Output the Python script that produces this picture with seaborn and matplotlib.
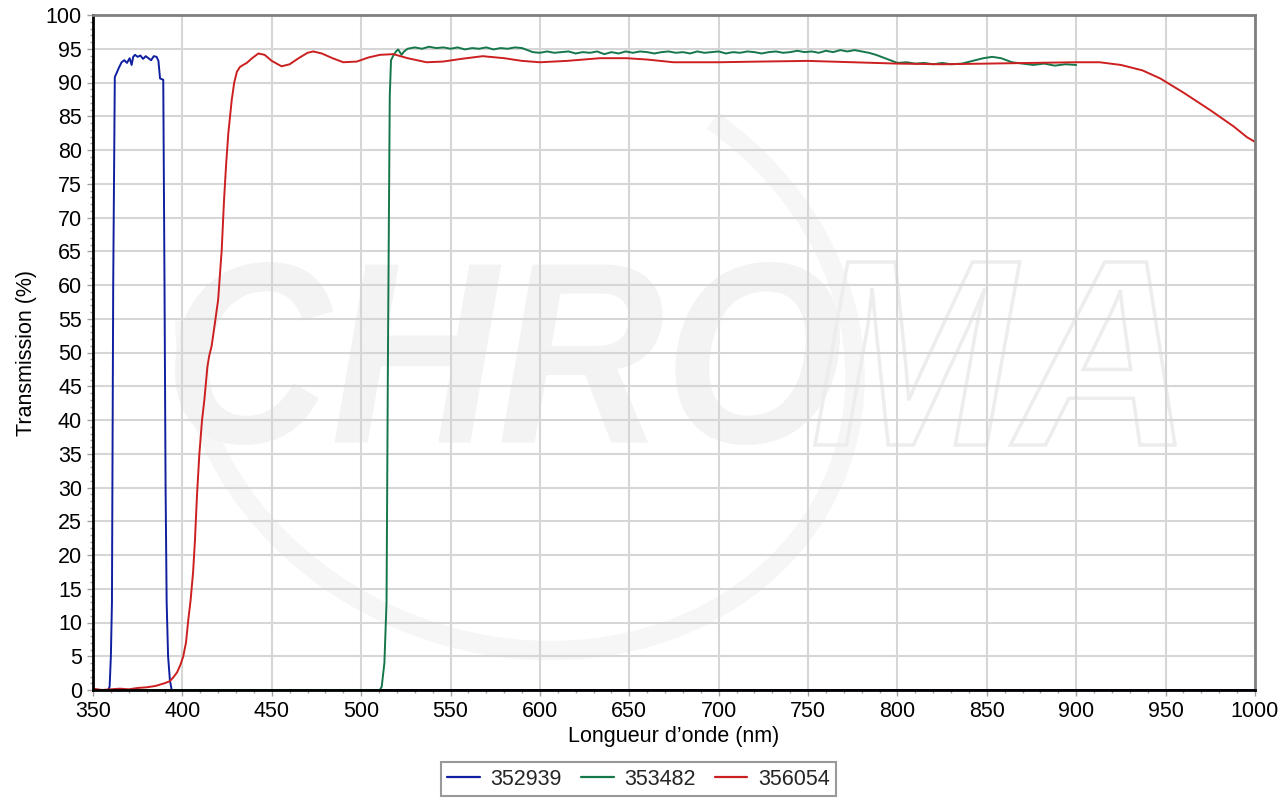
import numpy as np
import pandas as pd
import matplotlib
matplotlib.use('Agg')
import matplotlib.pyplot as plt
import seaborn as sns
from matplotlib.textpath import TextPath
from matplotlib.patches import PathPatch, Arc
from matplotlib.font_manager import FontProperties
from matplotlib.transforms import Affine2D, IdentityTransform
from matplotlib.ticker import MultipleLocator

# Data
blue_nm = [350, 358.5, 359.3, 360.0, 360.6, 361.3, 362.2, 363.2, 364.5, 366.0, 367.5, 369.0,
           370.5, 371.6, 372.5, 373.5, 375.0, 376.5, 378.0, 379.5, 381.0, 382.5, 384.0, 385.6,
           386.6, 387.5, 389.3, 390.0, 390.6, 391.2, 392.0, 393.0, 394.0, 1000]
blue_t = [0, 0, 0.5, 5, 13, 60, 90.8, 91.4, 92.2, 93.0, 93.3, 92.9,
          93.6, 92.6, 93.8, 94.1, 93.8, 94.0, 93.5, 93.9, 93.6, 93.3, 93.9, 93.8,
          93.2, 90.6, 90.4, 60, 30, 13, 5, 1.5, 0, 0]

green_nm = [350, 510.5, 511.5, 513, 514.2, 515, 516, 516.7, 518, 519.5, 520.7, 522.6, 524, 526,
            530, 534, 538, 542, 546, 550, 554, 558, 562, 566, 570, 574, 578, 582, 586, 590,
            593, 596, 600, 604, 608, 612, 616, 620, 624, 628, 632, 636, 640, 644, 648, 652,
            656, 660, 664, 668, 672, 676, 680, 684, 688, 692, 696, 700, 704, 708, 712, 716,
            720, 724, 728, 732, 736, 740, 744, 748, 752, 756, 760, 764, 768, 772, 776, 780,
            784, 788, 792, 796, 800, 805, 810, 815, 820, 825, 830, 836, 842, 848, 853, 858,
            864, 870, 876, 882, 888, 894, 900]
green_t = [0, 0, 0.5, 4, 13, 50, 88, 93.3, 94.0, 94.6, 94.9, 94.1, 94.6, 95.0,
           95.2, 95.0, 95.3, 95.1, 95.2, 95.0, 95.2, 94.9, 95.1, 95.0, 95.2, 94.9, 95.1, 95.0, 95.2, 95.1,
           94.8, 94.5, 94.4, 94.6, 94.4, 94.5, 94.6, 94.3, 94.5, 94.4, 94.6, 94.2, 94.5, 94.3, 94.6, 94.4,
           94.6, 94.5, 94.3, 94.5, 94.6, 94.4, 94.5, 94.3, 94.6, 94.4, 94.5, 94.6, 94.3, 94.5, 94.4, 94.6,
           94.5, 94.3, 94.5, 94.6, 94.4, 94.5, 94.7, 94.5, 94.6, 94.4, 94.7, 94.5, 94.8, 94.6, 94.8, 94.6,
           94.4, 94.1, 93.7, 93.3, 92.9, 93.0, 92.8, 92.9, 92.7, 92.9, 92.7, 92.8, 93.2, 93.6, 93.8, 93.6,
           93.0, 92.8, 92.6, 92.8, 92.5, 92.7, 92.6]

red_nm = [350, 355, 360, 365, 370, 375, 380, 385, 390, 393, 395, 397, 399, 400.5, 402, 403.3,
          404.6, 406, 407, 408.2, 409.5, 411, 412.3, 414, 415, 416.4, 418, 420, 422, 423.3,
          424.5, 425.7, 427.6, 429, 430.5, 432.2, 434, 436, 439, 442.5, 446, 450, 455.5, 460,
          465, 470, 473.2, 478, 484, 490, 497.5, 504, 510.5, 518, 526, 536.6, 545.8, 556, 568,
          580, 590, 600, 615, 633.6, 648.6, 660, 674.7, 700, 723, 750, 775, 800, 825, 850, 875,
          900, 913, 925, 937, 947, 960, 975, 988, 995.5, 1000]
red_t = [0.2, 0.0, 0.1, 0.2, 0.1, 0.3, 0.4, 0.6, 1.0, 1.3, 1.9, 2.6, 3.8, 5.0, 7.0, 10.4,
         13.3, 17.5, 22, 29, 35, 40, 43, 47.9, 49.5, 51, 54, 57.8, 65.2, 72.6,
         78, 82.5, 87.4, 90, 91.6, 92.3, 92.6, 92.9, 93.6, 94.3, 94.1, 93.2, 92.4, 92.7,
         93.6, 94.4, 94.6, 94.3, 93.6, 93.0, 93.1, 93.7, 94.1, 94.2, 93.6, 93.0, 93.1, 93.5, 93.9,
         93.6, 93.2, 93.0, 93.2, 93.6, 93.6, 93.4, 93.0, 93.0, 93.1, 93.2, 93.0, 92.8, 92.7, 92.8, 92.9,
         93.0, 93.0, 92.6, 91.8, 90.6, 88.5, 85.9, 83.5, 81.9, 81.2]

series_names = ['352939', '353482', '356054']
series_colors = ['#0f1f9f', '#16774a', '#cc1f1f']

df = pd.concat([
    pd.DataFrame({'nm': blue_nm, 'T': blue_t, 'serie': series_names[0]}),
    pd.DataFrame({'nm': green_nm, 'T': green_t, 'serie': series_names[1]}),
    pd.DataFrame({'nm': red_nm, 'T': red_t, 'serie': series_names[2]}),
], ignore_index=True)

sns.set_style('white')
plt.rcParams['font.family'] = ['Liberation Sans', 'DejaVu Sans']

fig = plt.figure(figsize=(12.8, 8), dpi=100)
ax = fig.add_axes([93/1280, 110/800, 1162/1280, 675/800])


# faint CHROMA watermark (display pixel coordinates)
def watermark(text, x0, x1, y0, y1, **kw):
    tp = TextPath((0, 0), text, size=100,
                  prop=FontProperties(family='Liberation Sans', weight='bold', style='italic'))
    bb = tp.get_extents()
    tr = Affine2D().translate(-bb.x0, -bb.y0).scale((x1 - x0) / bb.width, (y1 - y0) / bb.height).translate(x0, y0)
    p = PathPatch(tr.transform_path(tp), transform=IdentityTransform(), zorder=0.2, **kw)
    ax.add_patch(p)


ax.add_patch(Arc((520, 800 - 350), 680, 590, angle=-20, theta1=195, theta2=70,
                 transform=IdentityTransform(), color='#f6f6f6', lw=14, zorder=0.1))
watermark('CHRO', 175, 840, 355, 538, facecolor='#f3f3f3', edgecolor='none')
watermark('MA', 815, 1175, 355, 538, facecolor='none', edgecolor='#ededed', lw=2.5)

sns.lineplot(data=df, x='nm', y='T', hue='serie', hue_order=series_names,
             palette=series_colors, estimator=None, sort=False, lw=1.4, ax=ax)

ax.set_xlim(350, 1000)
ax.set_ylim(0, 100)
ax.xaxis.set_major_locator(MultipleLocator(50))
ax.xaxis.set_minor_locator(MultipleLocator(10))
ax.yaxis.set_major_locator(MultipleLocator(5))
ax.yaxis.set_minor_locator(MultipleLocator(1))
ax.set_axisbelow(True)
ax.grid(True, which='major', color='#d6d6d6', lw=1.5)
ax.tick_params(axis='both', which='both', direction='out', width=1,
               color='#a0a0a0', labelsize=15.5, labelcolor='black',
               bottom=True, left=True)
ax.tick_params(which='major', length=4, pad=4)
ax.tick_params(which='minor', length=2.5)

for side in ['left', 'bottom']:
    ax.spines[side].set_color('black')
    ax.spines[side].set_linewidth(2)
for side in ['top', 'right']:
    ax.spines[side].set_color('#808080')
    ax.spines[side].set_linewidth(2)

ax.set_xlabel('Longueur d\u2019onde (nm)', fontsize=15.5, color='black', labelpad=3)
ax.set_ylabel('Transmission (%)', fontsize=15.5, color='black', labelpad=6)

handles, labels = ax.get_legend_handles_labels()
ax.get_legend().remove()
leg = fig.legend(handles, labels, loc='center', bbox_to_anchor=(0.499, 0.026), ncol=3,
                 fontsize=15.5, frameon=True, fancybox=False, edgecolor='#808080',
                 handlelength=1.5, handletextpad=0.5, columnspacing=0.9, borderpad=0.3,
                 borderaxespad=0.2)
leg.get_frame().set_linewidth(1.5)
for line in leg.get_lines():
    line.set_linewidth(1.6)

fig.savefig('out.png', dpi=100)
